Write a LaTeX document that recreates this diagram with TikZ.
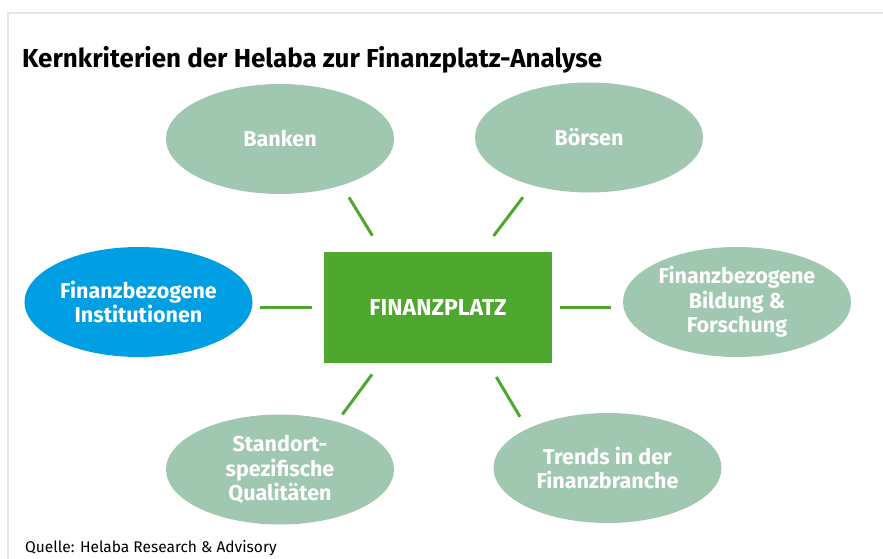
\documentclass[tikz,border=0pt]{standalone}
\usepackage{fontspec}
\setmainfont{Fira Sans}
\usetikzlibrary{shapes.geometric}
\definecolor{hlgreen}{HTML}{4EA72E}
\definecolor{hlmint}{HTML}{A0C8B0}
\definecolor{hlblue}{HTML}{009FE3}
\definecolor{hlframe}{HTML}{E6E6E6}
\begin{document}
\begin{tikzpicture}[x=1pt, y=-1pt,
        crit/.style={ellipse, fill=hlmint, minimum width=228pt, minimum height=110pt, inner sep=0pt, align=center, text=white, font=\fontsize{21.5}{24.5}\selectfont\bfseries},
        focus/.style={crit, fill=hlblue},
        core/.style={rectangle, fill=hlgreen, minimum width=228pt, minimum height=111pt, text=white, font=\fontsize{23}{26}\selectfont\bfseries},
        spoke/.style={hlgreen, line width=3pt},
        heading/.style={anchor=base west, inner sep=0pt, font=\fontsize{26}{30}\selectfont\bfseries},
        source/.style={anchor=base west, inner sep=0pt, font=\fontsize{15.5}{18}\selectfont}
    ]
    \useasboundingbox (0,0) rectangle (883,559);

    % Frame and title
    \draw[hlframe, line width=2pt] (8,559) -- (8,13) -- (883,13);
    \node[heading] (title) at (22,68) {Kernkriterien der Helaba zur Finanzplatz-Analyse};

    % Centre
    \node[core] (fp) at (438,307.5) {FINANZPLATZ};

    % Criteria around the centre
    \node[crit] (banken) at (280,139) {Banken};
    \node[crit] (boersen) at (589,137.5) {Börsen};
    \node[focus] (inst) at (138.5,302) {Finanzbezogene\\Institutionen};
    \node[crit] (bildung) at (737,302) {Finanzbezogene\\Bildung \&\\Forschung};
    \node[crit] (standort) at (280,469.5) {Standort-\\spezifische\\Qualitäten};
    \node[crit] (trends) at (607.5,468) {Trends in der\\Finanzbranche};

    % Spokes
    \draw[spoke, shorten <=19pt, shorten >=14pt] (fp.135) -- (banken.-37);
    \draw[spoke, shorten <=20pt, shorten >=15pt] (fp.52) -- (boersen.-140);
    \draw[spoke, shorten <=12pt, shorten >=7pt] (fp.west) -- (fp.west -| inst.east);
    \draw[spoke, shorten <=8pt, shorten >=12pt] (fp.east) -- (fp.east -| bildung.west);
    \draw[spoke, shorten <=14pt, shorten >=9pt] (fp.-136) -- (standort.40);
    \draw[spoke, shorten <=16pt, shorten >=14pt] (fp.-48) -- (trends.154);

    % Source
    \node[source] (quelle) at (25,552) {Quelle: Helaba Research \& Advisory};

\end{tikzpicture}
\end{document}
